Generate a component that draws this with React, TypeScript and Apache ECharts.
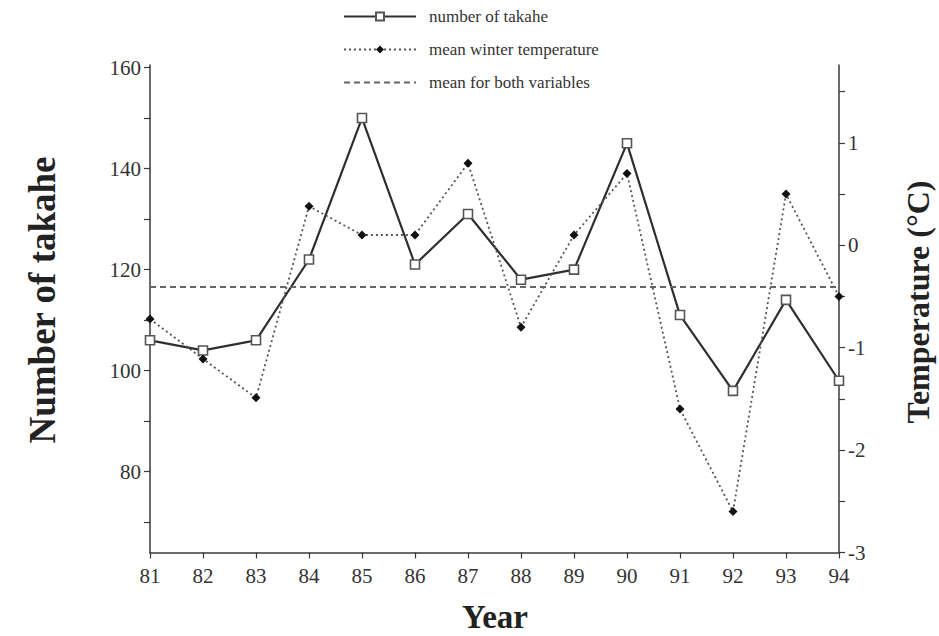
import React, { useEffect, useRef } from "react";
import * as echarts from "echarts";

const years = ["81", "82", "83", "84", "85", "86", "87", "88", "89", "90", "91", "92", "93", "94"];
const takahe = [106, 104, 106, 122, 150, 121, 131, 118, 120, 145, 111, 96, 114, 98];
const temperature = [-0.72, -1.11, -1.49, 0.38, 0.1, 0.1, 0.8, -0.8, 0.1, 0.7, -1.6, -2.6, 0.5, -0.5];
const meanTakahe = 116.6;

const leftLabelValues = [80, 100, 120, 140, 160];
const leftTickValues = [70, 80, 90, 100, 110, 120, 130, 140, 150, 160];
const rightLabelValues = [-3, -2, -1, 0, 1];
const rightTickValues = [-3, -2.5, -2, -1.5, -1, -0.5, 0, 0.5, 1, 1.5];

const seriesNames = ["number of takahe", "mean winter temperature", "mean for both variables"];

const FONT = "Liberation Serif";
const AXIS_COLOR = "#3a3a3a";
const TEXT_COLOR = "#333";

export default function App() {
  const ref = useRef<HTMLDivElement>(null);

  useEffect(() => {
    if (!ref.current) return;
    const chart = echarts.init(ref.current, null, { renderer: "svg" });
    const option: any = {
      animation: false,
      backgroundColor: "#fff",
      textStyle: { fontFamily: FONT },
      grid: { left: 150, right: 100, top: 65, bottom: 83.5, containLabel: false },
      legend: {
        orient: "vertical",
        left: 338,
        top: 3,
        itemWidth: 72,
        itemHeight: 10,
        itemGap: 16,
        data: seriesNames,
        textStyle: { fontFamily: FONT, fontSize: 17, color: TEXT_COLOR, padding: [0, 0, 0, 8] },
      },
      xAxis: {
        type: "category",
        data: years,
        boundaryGap: false,
        axisLine: { onZero: false, lineStyle: { color: AXIS_COLOR, width: 1.5 } },
        axisTick: { length: 6, lineStyle: { color: AXIS_COLOR, width: 1.2 } },
        axisLabel: { fontFamily: FONT, fontSize: 21, color: TEXT_COLOR, margin: 13 },
        splitLine: { show: false },
      },
      yAxis: [
        {
          type: "value",
          position: "left",
          min: 64,
          max: 160.5,
          axisLine: { show: true, onZero: false, lineStyle: { color: AXIS_COLOR, width: 1.5 } },
          axisTick: { show: true, length: 6, customValues: leftTickValues, lineStyle: { color: AXIS_COLOR, width: 1.2 } },
          axisLabel: { fontFamily: FONT, fontSize: 21, color: TEXT_COLOR, margin: 9, customValues: leftLabelValues },
          splitLine: { show: false },
        },
        {
          type: "value",
          position: "right",
          min: -3,
          max: 1.76,
          axisLine: { show: true, onZero: false, lineStyle: { color: AXIS_COLOR, width: 1.5 } },
          axisTick: { show: true, length: 6, customValues: rightTickValues, lineStyle: { color: AXIS_COLOR, width: 1.2 } },
          axisLabel: { fontFamily: FONT, fontSize: 21, color: TEXT_COLOR, margin: 9, customValues: rightLabelValues },
          splitLine: { show: false },
        },
      ],
      series: [
        {
          name: seriesNames[0],
          type: "line",
          yAxisIndex: 0,
          data: takahe,
          symbol: "rect",
          symbolSize: 9,
          z: 3,
          lineStyle: { color: "#2e2e2e", width: 2.2 },
          itemStyle: { color: "#fff", borderColor: "#555", borderWidth: 1.6 },
        },
        {
          name: seriesNames[1],
          type: "line",
          yAxisIndex: 1,
          data: temperature,
          symbol: "diamond",
          symbolSize: 9,
          z: 4,
          lineStyle: { color: "#555", width: 1.8, type: [2, 3] },
          itemStyle: { color: "#111", borderColor: "#111", borderWidth: 0 },
        },
        {
          name: seriesNames[2],
          type: "line",
          yAxisIndex: 0,
          data: [],
          symbol: "none",
          lineStyle: { color: "#666", width: 2, type: [6, 4] },
          itemStyle: { color: "rgba(0,0,0,0)", borderWidth: 0 },
          markLine: {
            silent: true,
            symbol: "none",
            label: { show: false },
            lineStyle: { color: "#666", width: 2.2, type: [6, 4] },
            data: [{ yAxis: meanTakahe }],
          },
        },
      ],
      graphic: [
        {
          type: "text",
          x: 42,
          y: 300,
          rotation: Math.PI / 2,
          style: {
            text: "Number of takahe",
            fontFamily: FONT,
            fontSize: 37,
            fontWeight: "bold",
            fill: "#222",
            textAlign: "center",
            textVerticalAlign: "middle",
          },
        },
        {
          type: "text",
          x: 918,
          y: 302,
          rotation: Math.PI / 2,
          style: {
            text: "Temperature (°C)",
            fontFamily: FONT,
            fontSize: 32,
            fontWeight: "bold",
            fill: "#222",
            textAlign: "center",
            textVerticalAlign: "middle",
          },
        },
        {
          type: "text",
          x: 495,
          y: 617,
          style: {
            text: "Year",
            fontFamily: FONT,
            fontSize: 33,
            fontWeight: "bold",
            fill: "#222",
            textAlign: "center",
            textVerticalAlign: "middle",
          },
        },
      ],
    };
    chart.setOption(option);
    return () => chart.dispose();
  }, []);

  return (
    <div
      ref={ref}
      style={{ position: "fixed", left: 0, top: 0, width: 939, height: 636, background: "#fff" }}
    />
  );
}
